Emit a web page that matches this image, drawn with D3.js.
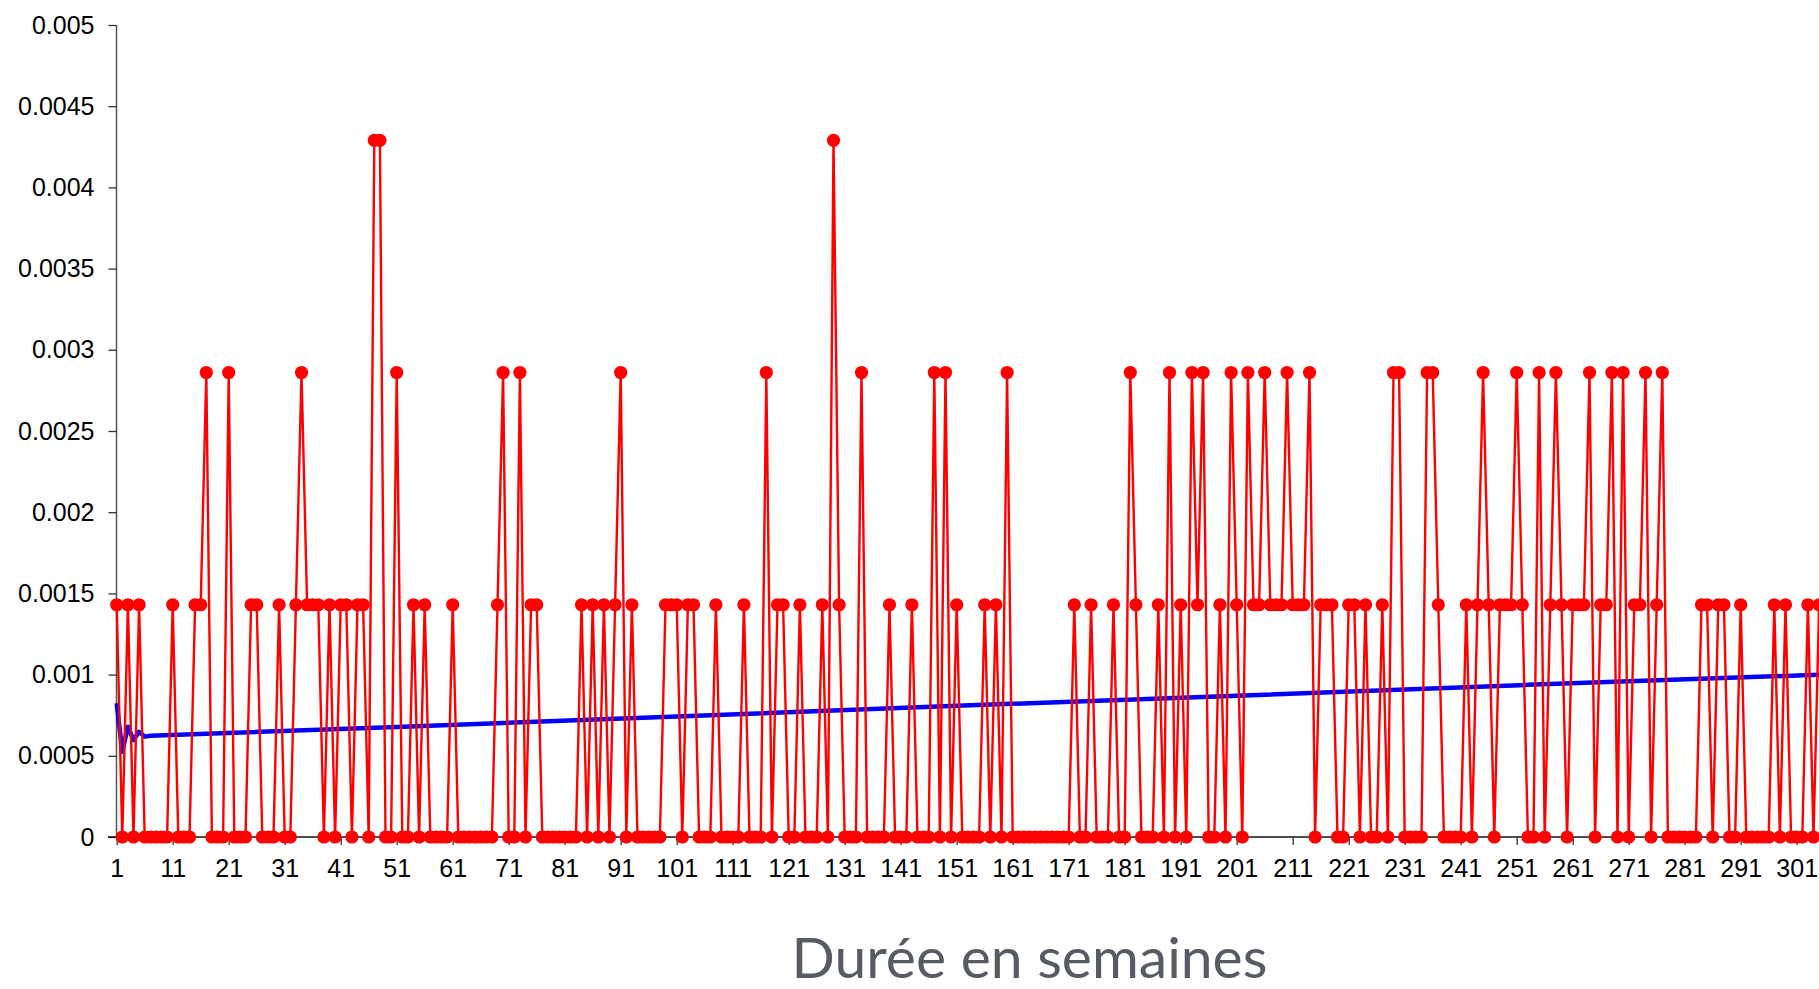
<!DOCTYPE html>
<html>
<head>
<meta charset="utf-8">
<script src="https://cdn.jsdelivr.net/npm/d3@7"></script>
<style>
  body { margin: 0; background: #fff; }
  svg { display: block; }
</style>
</head>
<body>
<svg id="chart" width="1819" height="989"></svg>
<script>
// observed frequency per week (red series), weeks 1..305
const frequence = [
  0.00143,0,0.00143,0,0.00143,0,0,0,0,0,
  0.00143,0,0,0,0.00143,0.00143,0.00286,0,0,0,
  0.00286,0,0,0,0.00143,0.00143,0,0,0,0.00143,
  0,0,0.00143,0.00286,0.00143,0.00143,0.00143,0,0.00143,0,
  0.00143,0.00143,0,0.00143,0.00143,0,0.00429,0.00429,0,0,
  0.00286,0,0,0.00143,0,0.00143,0,0,0,0,
  0.00143,0,0,0,0,0,0,0,0.00143,0.00286,
  0,0,0.00286,0,0.00143,0.00143,0,0,0,0,
  0,0,0,0.00143,0,0.00143,0,0.00143,0,0.00143,
  0.00286,0,0.00143,0,0,0,0,0,0.00143,0.00143,
  0.00143,0,0.00143,0.00143,0,0,0,0.00143,0,0,
  0,0,0.00143,0,0,0,0.00286,0,0.00143,0.00143,
  0,0,0.00143,0,0,0,0.00143,0,0.00429,0.00143,
  0,0,0,0.00286,0,0,0,0,0.00143,0,
  0,0,0.00143,0,0,0,0.00286,0,0.00286,0,
  0.00143,0,0,0,0,0.00143,0,0.00143,0,0.00286,
  0,0,0,0,0,0,0,0,0,0,
  0,0.00143,0,0,0.00143,0,0,0,0.00143,0,
  0,0.00286,0.00143,0,0,0,0.00143,0,0.00286,0,
  0.00143,0,0.00286,0.00143,0.00286,0,0,0.00143,0,0.00286,
  0.00143,0,0.00286,0.00143,0.00143,0.00286,0.00143,0.00143,0.00143,0.00286,
  0.00143,0.00143,0.00143,0.00286,0,0.00143,0.00143,0.00143,0,0,
  0.00143,0.00143,0,0.00143,0,0,0.00143,0,0.00286,0.00286,
  0,0,0,0,0.00286,0.00286,0.00143,0,0,0,
  0,0.00143,0,0.00143,0.00286,0.00143,0,0.00143,0.00143,0.00143,
  0.00286,0.00143,0,0,0.00286,0,0.00143,0.00286,0.00143,0,
  0.00143,0.00143,0.00143,0.00286,0,0.00143,0.00143,0.00286,0,0.00286,
  0,0.00143,0.00143,0.00286,0,0.00143,0.00286,0,0,0,
  0,0,0,0.00143,0.00143,0,0.00143,0.00143,0,0,
  0.00143,0,0,0,0,0,0.00143,0,0.00143,0,
  0,0,0.00143,0,0.00143
];
const semaines = frequence.map((d, i) => i + 1);

// fitted curve (blue), read at a few weeks
const ajusteSemaines = [1, 2, 3, 4, 5, 6, 7, 51, 101, 151, 201, 253, 305];
const ajusteValeurs = [0.000823, 0.000525, 0.000679, 0.000597, 0.000648, 0.000618, 0.000624,
  0.000677, 0.000742, 0.000808, 0.00087, 0.000937, 0.000999];

const xTicks = [1, 11, 21, 31, 41, 51, 61, 71, 81, 91, 101, 111, 121, 131, 141, 151,
  161, 171, 181, 191, 201, 211, 221, 231, 241, 251, 261, 271, 281, 291, 301];
const yTicks = [0, 0.0005, 0.001, 0.0015, 0.002, 0.0025, 0.003, 0.0035, 0.004, 0.0045, 0.005];
const xTitle = "Durée en semaines";

const svg = d3.select("#chart");

const x = d3.scaleLinear().domain([1, 305]).range([116.7, 116.7 + 304 * 5.6]);
const y = d3.scaleLinear().domain([0, 0.005]).range([837, 25]);

// y axis
const yAxis = svg.append("g")
  .attr("transform", "translate(116.5,0)")
  .call(d3.axisLeft(y).tickValues(yTicks).tickSize(8).tickPadding(14)
    .tickFormat(d => d === 0 ? "0" : String(+d.toFixed(4))));
yAxis.select(".domain").attr("stroke", "#555").attr("stroke-width", 1.5).attr("d", `M0,${y(0.005)}V${y(0)}`);
yAxis.selectAll(".tick line").attr("stroke", "#333").attr("stroke-width", 1.3);
yAxis.selectAll("text")
  .attr("fill", "#000")
  .style("font-family", "'Liberation Sans', Arial, sans-serif")
  .style("font-size", "25px");

// x axis
const xAxis = svg.append("g")
  .attr("transform", `translate(0,${y(0)})`)
  .call(d3.axisBottom(x).tickValues(xTicks).tickSize(8).tickPadding(14).tickFormat(d3.format("d")));
xAxis.select(".domain").attr("stroke", "#111").attr("stroke-width", 1.5).attr("d", `M108,0H1819`);
xAxis.selectAll(".tick line").attr("stroke", "#333").attr("stroke-width", 1.3);
xAxis.selectAll("text")
  .attr("fill", "#000")
  .style("font-family", "'Liberation Sans', Arial, sans-serif")
  .style("font-size", "25px");

// blue curve
const lineAjuste = d3.line()
  .x(d => x(d[0]))
  .y(d => y(d[1]));
svg.append("path")
  .datum(ajusteSemaines.map((s, i) => [s, ajusteValeurs[i]]))
  .attr("fill", "none")
  .attr("stroke", "#0000ff")
  .attr("stroke-width", 4.5)
  .attr("stroke-linejoin", "round")
  .attr("d", lineAjuste);

// red series
const lineFreq = d3.line()
  .x((d, i) => x(semaines[i]))
  .y(d => y(d));
svg.append("path")
  .datum(frequence)
  .attr("fill", "none")
  .attr("stroke", "#ff0000")
  .attr("stroke-width", 2.4)
  .attr("d", lineFreq);

svg.append("g")
  .selectAll("circle")
  .data(frequence).enter()
  .append("circle")
  .attr("cx", (d, i) => x(semaines[i]))
  .attr("cy", d => y(d))
  .attr("r", 6.6)
  .attr("fill", "#ff0000");

// axis title
svg.append("text")
  .text(xTitle)
  .attr("x", 1029.5)
  .attr("y", 978)
  .attr("text-anchor", "middle")
  .attr("fill", "#575b63")
  .style("font-family", "Lato, 'Open Sans', sans-serif")
  .style("font-size", "57px");
</script>
</body>
</html>
